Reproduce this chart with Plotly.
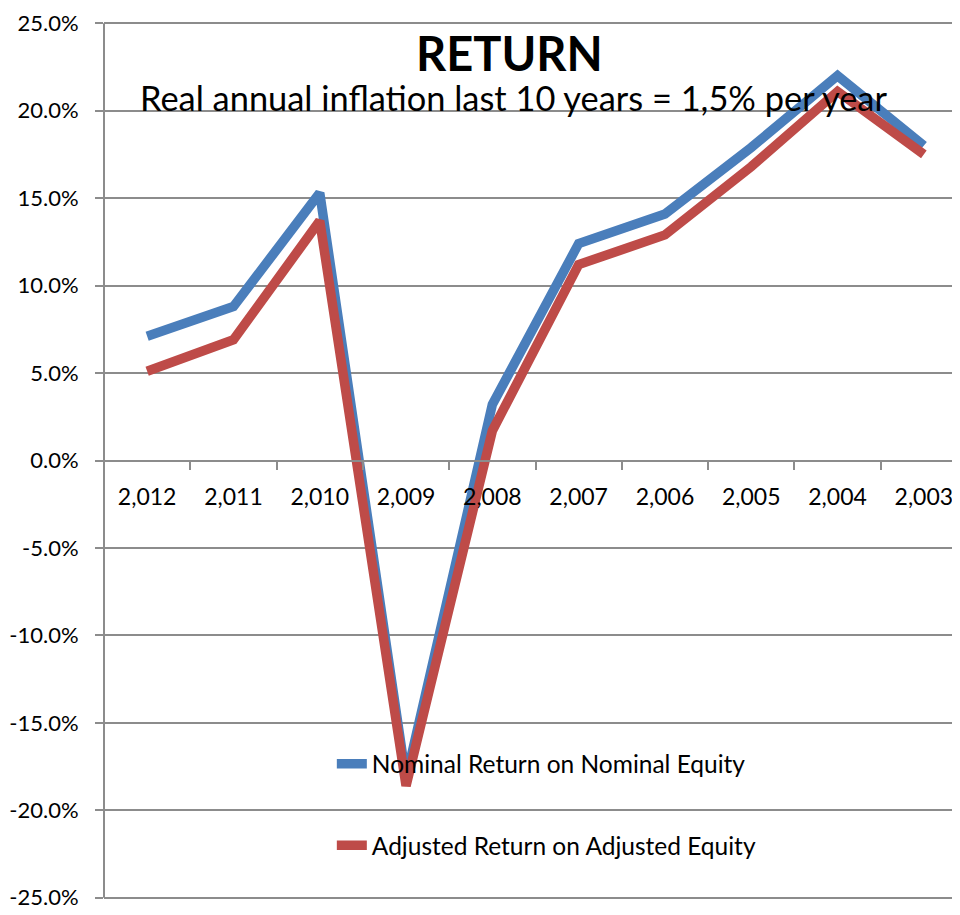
import plotly.graph_objects as go

years = ["2,012", "2,011", "2,010", "2,009", "2,008", "2,007", "2,006", "2,005", "2,004", "2,003"]
nominal = [7.1, 8.8, 15.3, -18.2, 3.2, 12.4, 14.1, 17.9, 22.0, 18.0]
adjusted = [5.1, 6.9, 13.7, -18.6, 1.7, 11.2, 12.9, 16.8, 21.1, 17.5]
y_ticks = [-25, -20, -15, -10, -5, 0, 5, 10, 15, 20, 25]
y_ticktext = [f"{v:.1f}%" for v in y_ticks]

FONT = "Lato, 'Open Sans', sans-serif"
GRID = "#8c8c8c"

# plot area in page pixels (page body has an 8px margin)
TOP, BOT = 13, 903


def py(ypix):
    return (BOT - ypix) / (BOT - TOP)


fig = go.Figure()
fig.add_trace(go.Scatter(x=years, y=nominal, mode="lines", name="Nominal Return on Nominal Equity",
                         line=dict(color="#4A7EBB", width=9.5), legend="legend", showlegend=True))
fig.add_trace(go.Scatter(x=years, y=adjusted, mode="lines", name="Adjusted Return on Adjusted Equity",
                         line=dict(color="#BE4B48", width=9.5), legend="legend2", showlegend=True))

fig.update_layout(
    width=960, height=915,
    margin=dict(l=96, r=1, t=TOP - 8, b=923 - BOT),
    showlegend=True,
    paper_bgcolor="white", plot_bgcolor="white",
    font=dict(family=FONT, size=22, color="black"),
    xaxis=dict(type="category", range=[-0.5, 9.5], showgrid=False,
               anchor="free", position=0.5, showline=True, linecolor=GRID, linewidth=2,
               ticks="outside", tickson="boundaries", ticklen=8, tickcolor=GRID, tickwidth=2,
               tickfont=dict(size=23), ticklabelstandoff=16, zeroline=False),
    yaxis=dict(range=[-25.3, 25.3], tickvals=y_ticks, ticktext=y_ticktext,
               showgrid=True, gridcolor=GRID, gridwidth=2, zeroline=False,
               showline=False, ticks="outside", ticklen=8, ticklabeloverflow="allow",
               tickcolor=GRID, tickwidth=2, tickfont=dict(size=22), ticklabelstandoff=12),
    legend=dict(x=0.264, y=py(763), xanchor="left", yanchor="middle", bgcolor="rgba(0,0,0,0)",
                font=dict(size=24.5)),
    legend2=dict(x=0.264, y=py(845), xanchor="left", yanchor="middle", bgcolor="rgba(0,0,0,0)",
                 font=dict(size=24.5)),
    annotations=[
        dict(text="<b>RETURN</b>", x=0.47, y=py(48), xref="paper", yref="paper",
             showarrow=False, font=dict(size=47), yanchor="middle"),
        dict(text="Real annual inflation last 10 years = 1,5% per year", x=0.475, y=py(93),
             xref="paper", yref="paper", showarrow=False, font=dict(size=34.4), yanchor="middle"),
    ],
    shapes=[
        # vertical value-axis line spanning -25% .. 25%
        dict(type="line", xref="paper", yref="y", x0=0, x1=0, y0=-25, y1=25,
             line=dict(color=GRID, width=2), layer="below"),
    ],
)

fig.write_html("out.html")
